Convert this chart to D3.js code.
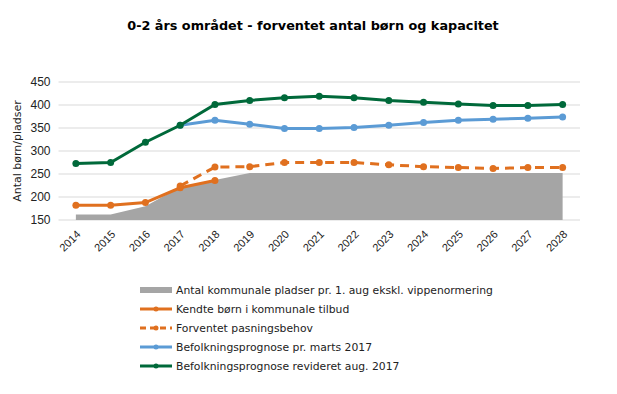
<!DOCTYPE html>
<html>
<head>
<meta charset="utf-8">
<script src="https://cdn.jsdelivr.net/npm/d3@7"></script>
<style>
  body { margin: 0; background: #fff; }
  svg { font-family: 'DejaVu Sans', Verdana, sans-serif; }
</style>
</head>
<body>
<div id="app"></div>
<script>
// data
const years = [2014, 2015, 2016, 2017, 2018, 2019, 2020, 2021, 2022, 2023, 2024, 2025, 2026, 2027, 2028]
const pladser = [162, 162, 180, 222, 237, 252, 252, 252, 252, 252, 252, 252, 252, 252, 252]
const kendte = [182, 182, 188, 220, 236, null, null, null, null, null, null, null, null, null, null]
const forventet = [null, null, null, 224, 265, 266, 275, 275, 275, 270, 266, 264, 262, 264, 264]
const marts = [null, null, null, 356, 367, 358, 349, 349, 351, 356, 362, 367, 369, 371, 374]
const revideret = [273, 275, 319, 356, 401, 410, 416, 419, 416, 410, 406, 402, 399, 399, 401]
const yTicks = [150, 200, 250, 300, 350, 400, 450]

const series = [
  { name: 'Kendte børn i kommunale tilbud', values: kendte, color: '#e0701f', dash: null },
  { name: 'Forventet pasningsbehov', values: forventet, color: '#e0701f', dash: '9,6' },
  { name: 'Befolkningsprognose pr. marts 2017', values: marts, color: '#5b9bd5', dash: null },
  { name: 'Befolkningsprognose revideret aug. 2017', values: revideret, color: '#00693a', dash: null }
]

const w = 617, h = 394
const mLeft = 58.5, mRight = 580, mTop = 82, mBottom = 220

const svg = d3.select('#app').append('svg')
  .attr('width', w)
  .attr('height', h)

svg.append('text')
  .attr('x', 313)
  .attr('y', 30)
  .attr('text-anchor', 'middle')
  .style('font-size', '12.8px')
  .style('font-weight', 'bold')
  .text('0-2 års området - forventet antal børn og kapacitet')

const x = d3.scalePoint()
  .domain(years)
  .range([mLeft, mRight])
  .padding(0.5)

const y = d3.scaleLinear()
  .domain([150, 450])
  .range([mBottom, mTop])

// gridlines
svg.append('g')
  .selectAll('line')
  .data(yTicks)
  .enter()
  .append('line')
  .attr('x1', mLeft)
  .attr('x2', mRight)
  .attr('y1', d => y(d))
  .attr('y2', d => y(d))
  .attr('stroke', '#d9d9d9')
  .attr('stroke-width', 1)

// area
const area = d3.area()
  .x((d, i) => x(years[i]))
  .y0(y(150))
  .y1(d => y(d))

svg.append('path')
  .datum(pladser)
  .attr('d', area)
  .attr('fill', '#a5a5a5')

// y axis
const yAxis = d3.axisLeft(y).tickValues(yTicks).tickSize(0).tickPadding(8)
const gy = svg.append('g')
  .attr('transform', `translate(${mLeft},0)`)
  .call(yAxis)
gy.select('.domain').remove()
gy.selectAll('text').style('font-size', '12px').attr('fill', '#222')

svg.append('text')
  .attr('transform', `translate(21, ${(mTop + mBottom) / 2}) rotate(-90)`)
  .attr('text-anchor', 'middle')
  .style('font-size', '11px')
  .attr('fill', '#222')
  .text('Antal børn/pladser')

// x axis
const xAxis = d3.axisBottom(x).tickSize(0).tickPadding(6)
const gx = svg.append('g')
  .attr('transform', `translate(0,${mBottom})`)
  .call(xAxis)
gx.select('.domain').remove()
gx.selectAll('text')
  .style('font-size', '11px')
  .attr('fill', '#222')
  .attr('text-anchor', 'end')
  .attr('dy', '0.35em')
  .attr('transform', 'translate(-2,8) rotate(-45)')

// lines
const line = d3.line()
  .defined(d => d != null)
  .x((d, i) => x(years[i]))
  .y(d => y(d))

series.forEach(s => {
  svg.append('path')
    .datum(s.values)
    .attr('d', line)
    .attr('fill', 'none')
    .attr('stroke', s.color)
    .attr('stroke-width', 3)
    .attr('stroke-dasharray', s.dash)

  svg.append('g')
    .selectAll('circle')
    .data(s.values.map((v, i) => ({ v, year: years[i] })).filter(d => d.v != null))
    .enter()
    .append('circle')
    .attr('cx', d => x(d.year))
    .attr('cy', d => y(d.v))
    .attr('r', 3.5)
    .attr('fill', s.color)
})

// legend
const legendNames = ['Antal kommunale pladser pr. 1. aug ekskl. vippenormering'].concat(series.map(s => s.name))
const legend = svg.append('g')
  .attr('transform', 'translate(140, 290)')

legendNames.forEach((name, i) => {
  const g = legend.append('g').attr('transform', `translate(0, ${i * 19})`)
  if (i === 0) {
    g.append('rect')
      .attr('x', 0).attr('y', -3).attr('width', 32).attr('height', 6)
      .attr('fill', '#a5a5a5')
  } else {
    const s = series[i - 1]
    g.append('line')
      .attr('x1', 0).attr('x2', 32)
      .attr('stroke', s.color)
      .attr('stroke-width', 3)
      .attr('stroke-dasharray', s.dash ? '6,4' : null)
    g.append('circle').attr('cx', 16).attr('r', 2.5).attr('fill', s.color)
  }
  g.append('text')
    .attr('x', 36)
    .attr('dy', '0.35em')
    .style('font-size', '10.8px')
    .attr('fill', '#222')
    .text(name)
})
</script>
</body>
</html>
